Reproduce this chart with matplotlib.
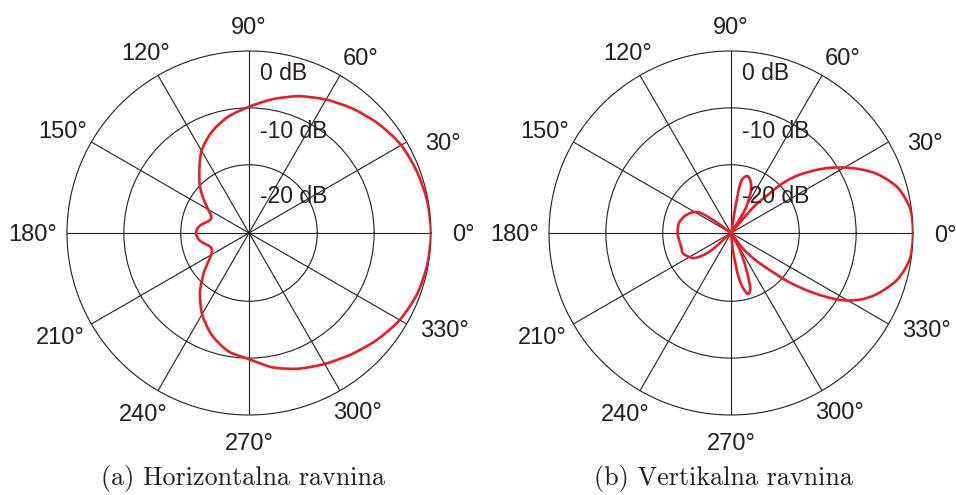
import numpy as np
import matplotlib.pyplot as plt
from matplotlib.path import Path
from matplotlib.patches import PathPatch

# horizontal plane pattern: angle in degrees, level in dB
h_angles = [0, 10, 20, 30, 40, 50, 60, 70, 80, 90, 100, 110, 120, 130, 135,
            140, 145, 150, 155, 160, 165, 170, 175, 180, 185, 190, 195, 200,
            205, 210, 215, 220, 225, 230, 240, 250, 260, 270, 280, 290, 300,
            310, 320, 330, 340, 350, 360]
h_gain = [0, -0.15, -0.55, -1.1, -2.2, -3.5, -4.9, -6.4, -8.1, -9.8, -11.2,
          -13.0, -15.3, -18.4, -19.7, -21.1, -22.5, -23.7, -24.6, -24.85,
          -24.4, -23.5, -22.9, -22.7, -22.9, -23.4, -24.2, -24.8, -24.8,
          -24.3, -23.3, -21.8, -20.3, -18.6, -15.5, -12.9, -10.9, -9.8, -8.0,
          -6.6, -5.4, -4.1, -2.7, -1.4, -0.55, -0.15, 0]

# vertical plane pattern
v_angles = [0, 4.7, 7.95, 11.4, 15.1, 18.65, 22.3, 25.35, 28.45, 31.5, 34.75,
            37.65, 40.5, 42.9, 44.7, 45.75, 48.3, 49.4, 49.5, 51,
            54, 58, 61, 64, 67.5, 70.5, 73.6, 76.5, 79, 80, 80.5, 81,
            141, 143, 146.3, 151.6, 160.3, 169, 180, 194.9, 202.5, 208.3,
            214.3, 219.1, 222, 224,
            272, 276, 279.6, 282, 285.5, 289, 291, 294, 298, 302,
            305, 306.9, 309.9, 312.95, 315.8, 317.9, 319.6, 321.55, 323.6,
            325.6, 327.9, 330.4, 333.4, 336.7, 340.6, 344.2, 348.3, 351.9,
            355.3, 360]
v_gain = [0, -0.05, -0.23, -0.79, -1.58, -2.87, -4.44, -6.12, -8.0, -9.94,
          -12.1, -14.24, -16.28, -18.32, -20.37, -22.42, -24.93, -27.13,
          -29.3, -32,
          -32, -27.8, -26.0, -24.1, -22.8, -22.0, -21.6, -21.9, -22.8, -25.0,
          -28.5, -32,
          -32, -29.1, -25.7, -24.35, -23.3, -22.7, -22.6, -22.9, -22.8, -23.35,
          -24.2, -25.95, -28.1, -32,
          -32, -29.0, -24.3, -22.3, -20.9, -21.6, -23.3, -26.0, -29.0, -32,
          -32, -29.07, -27.07, -25.03, -22.92, -20.86, -18.84, -16.73, -14.52,
          -12.4, -10.0, -7.95, -6.05, -4.43, -2.92, -1.67, -0.76, -0.21,
          -0.05, 0]

grid_angles = list(range(0, 360, 30))
grid_labels = [f'{a}°' for a in grid_angles]
ring_levels = [-20, -10]
ring_labels = ['0 dB', '-10 dB', '-20 dB']
captions = ['(a) Horizontalna ravnina', '(b) Vertikalna ravnina']

# label centre offsets from the outer circle, in pixels (right, up)
label_offsets = [(32, 0), (36, 1), (21, 19), (0, 26), (-12, 24), (-29, 12),
                 (-34, 0), (-31, -12), (-15, -22), (0, -26), (17, -20), (38, -4)]
ring_label_y = [153.5, 95, 30]  # baselines above centre, pixels

ink = '#231f20'
red = '#ec1c24'
R = 182.0
box = 364.0
RMIN, RMAX = -32, 0

fig = plt.figure(figsize=(9.56, 4.95), dpi=100)


def smooth_path(angles, gain):
    # closed curve through the read points, drawn as cubic bezier segments
    t = np.deg2rad(np.asarray(angles, float))
    r = np.asarray(gain, float)
    tp = np.concatenate([[t[-2] - 2 * np.pi], t, [t[1] + 2 * np.pi]])
    rp = np.concatenate([[r[-2]], r, [r[1]]])
    pts = np.column_stack([tp, rp])
    verts = [pts[1]]
    codes = [Path.MOVETO]
    for i in range(1, len(pts) - 2):
        p0, p1, p2, p3 = pts[i - 1], pts[i], pts[i + 1], pts[i + 2]
        c1 = p1 + (p2 - p0) / 6
        c2 = p2 - (p3 - p1) / 6
        for c in (c1, c2):
            c[1] = min(max(c[1], RMIN), RMAX)
        verts += [c1, c2, p2]
        codes += [Path.CURVE4] * 3
    return Path(np.array(verts), codes)


def polar_panel(left_px, angles, gain, caption, cap_x):
    ax = fig.add_axes([left_px / 956, 80 / 495, box / 956, box / 495],
                      projection='polar')
    ax.set_rlim(RMIN, RMAX)
    ax.set_xticks(np.deg2rad(grid_angles))
    ax.set_xticklabels([])
    ax.set_yticks(ring_levels)
    ax.set_yticklabels([])
    ax.tick_params(length=0)
    ax.grid(True, color=ink, lw=0.8)
    ax.spines['polar'].set_color(ink)
    ax.spines['polar'].set_linewidth(0.8)
    ax.add_patch(PathPatch(smooth_path(angles, gain), facecolor='none',
                           edgecolor=red, lw=1.9, zorder=3,
                           transform=ax.transData))

    for a, lab, (dx, dy) in zip(grid_angles, grid_labels, label_offsets):
        t = np.deg2rad(a)
        x = 0.5 + (R * np.cos(t) + dx) / box
        y = 0.5 + (R * np.sin(t) + dy - 8.5) / box
        ax.text(x, y, lab, transform=ax.transAxes, ha='center', va='baseline',
                fontsize=17, family='Liberation Sans', color=ink, clip_on=False)
    for lab, yb in zip(ring_labels, ring_label_y):
        ax.text(0.5 + 11 / box, 0.5 + yb / box, lab, transform=ax.transAxes,
                ha='left', va='baseline', fontsize=16.5,
                family='Liberation Sans', color=ink, zorder=4)
    fig.text(cap_x / 956, 9.5 / 495, caption, ha='center', va='baseline',
             fontsize=18.8, family='cmr10', color=ink)
    return ax


polar_panel(67, h_angles, h_gain, captions[0], 242.5)
polar_panel(549, v_angles, v_gain, captions[1], 723.5)

fig.savefig('out.png', dpi=100)
